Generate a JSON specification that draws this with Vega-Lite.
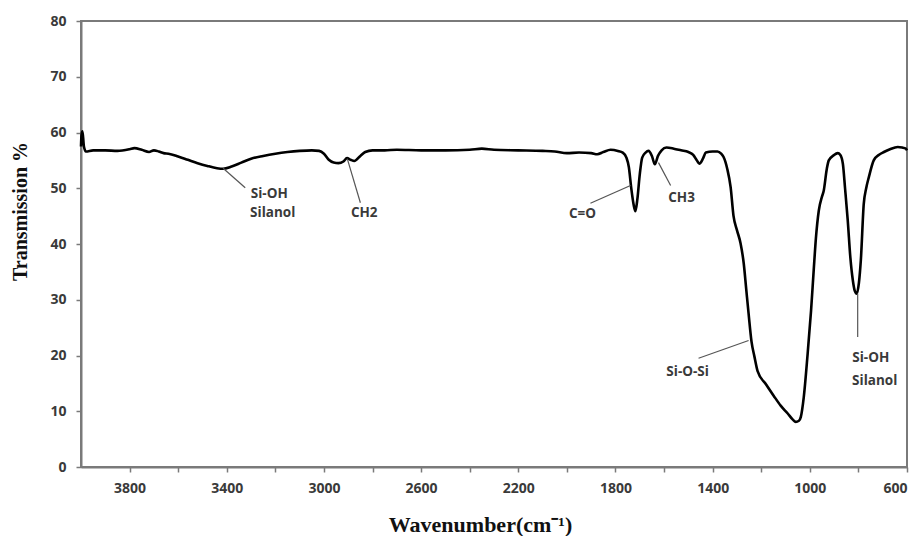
{
  "$schema": "https://vega.github.io/schema/vega-lite/v6.json",
  "width": 826,
  "height": 446,
  "autosize": {"type": "none"},
  "padding": {"left": 81, "top": 21, "right": 10, "bottom": 69},
  "background": "white",
  "config": {
    "view": {"stroke": "#7a7a7a", "strokeWidth": 2},
    "axis": {
      "domainColor": "#7a7a7a",
      "domainWidth": 2,
      "tickColor": "#7a7a7a",
      "tickWidth": 1.5,
      "grid": false,
      "labelFont": "Open Sans",
      "labelFontWeight": "bold",
      "labelFontSize": 14,
      "labelColor": "#3a3a3a",
      "titleFont": "Liberation Serif",
      "titleFontWeight": "bold",
      "titleColor": "#111111"
    }
  },
  "datasets": {
    "spectrum": [
      {"w": 4000, "v": 57.5}, {"w": 3998, "v": 59.5}, {"w": 3994, "v": 60.2}, {"w": 3988, "v": 57.5}, {"w": 3980, "v": 56.6},
      {"w": 3950, "v": 56.8}, {"w": 3900, "v": 56.8}, {"w": 3850, "v": 56.7}, {"w": 3800, "v": 57.0}, {"w": 3780, "v": 57.2},
      {"w": 3750, "v": 56.9}, {"w": 3720, "v": 56.5}, {"w": 3700, "v": 56.8}, {"w": 3680, "v": 56.6}, {"w": 3660, "v": 56.3},
      {"w": 3640, "v": 56.2}, {"w": 3600, "v": 55.7}, {"w": 3560, "v": 55.1}, {"w": 3520, "v": 54.5}, {"w": 3480, "v": 54.0},
      {"w": 3440, "v": 53.6}, {"w": 3415, "v": 53.5}, {"w": 3380, "v": 53.9}, {"w": 3340, "v": 54.6}, {"w": 3300, "v": 55.3},
      {"w": 3250, "v": 55.8}, {"w": 3200, "v": 56.2}, {"w": 3150, "v": 56.5}, {"w": 3100, "v": 56.7}, {"w": 3050, "v": 56.8},
      {"w": 3020, "v": 56.7}, {"w": 3000, "v": 56.2}, {"w": 2980, "v": 55.1}, {"w": 2960, "v": 54.6}, {"w": 2940, "v": 54.5},
      {"w": 2920, "v": 54.8}, {"w": 2905, "v": 55.4}, {"w": 2890, "v": 55.1}, {"w": 2875, "v": 54.9}, {"w": 2850, "v": 55.8},
      {"w": 2830, "v": 56.5}, {"w": 2800, "v": 56.8}, {"w": 2750, "v": 56.8}, {"w": 2700, "v": 56.9}, {"w": 2600, "v": 56.8},
      {"w": 2500, "v": 56.8}, {"w": 2400, "v": 56.9}, {"w": 2350, "v": 57.1}, {"w": 2300, "v": 56.9}, {"w": 2200, "v": 56.8},
      {"w": 2100, "v": 56.7}, {"w": 2050, "v": 56.6}, {"w": 2000, "v": 56.3}, {"w": 1950, "v": 56.4}, {"w": 1900, "v": 56.3},
      {"w": 1875, "v": 56.1}, {"w": 1850, "v": 56.5}, {"w": 1820, "v": 56.9}, {"w": 1790, "v": 56.7}, {"w": 1770, "v": 56.4},
      {"w": 1755, "v": 55.5}, {"w": 1745, "v": 53.8}, {"w": 1735, "v": 50.0}, {"w": 1725, "v": 47.0}, {"w": 1718, "v": 45.9},
      {"w": 1710, "v": 48.0}, {"w": 1700, "v": 52.5}, {"w": 1690, "v": 55.5}, {"w": 1676, "v": 56.4}, {"w": 1664, "v": 56.7},
      {"w": 1650, "v": 55.8}, {"w": 1638, "v": 54.3}, {"w": 1625, "v": 55.8}, {"w": 1610, "v": 56.8}, {"w": 1590, "v": 57.3},
      {"w": 1560, "v": 57.1}, {"w": 1530, "v": 56.8}, {"w": 1500, "v": 56.5}, {"w": 1480, "v": 56.0}, {"w": 1465, "v": 55.0},
      {"w": 1455, "v": 54.4}, {"w": 1440, "v": 55.3}, {"w": 1428, "v": 56.4}, {"w": 1400, "v": 56.6}, {"w": 1380, "v": 56.6},
      {"w": 1365, "v": 56.2}, {"w": 1355, "v": 55.6}, {"w": 1340, "v": 53.5}, {"w": 1326, "v": 50.2}, {"w": 1314, "v": 45.0},
      {"w": 1300, "v": 42.5}, {"w": 1285, "v": 40.1}, {"w": 1272, "v": 36.5}, {"w": 1262, "v": 32.0}, {"w": 1252, "v": 27.5},
      {"w": 1240, "v": 22.5}, {"w": 1228, "v": 19.8}, {"w": 1215, "v": 17.2}, {"w": 1180, "v": 14.8}, {"w": 1149, "v": 12.8},
      {"w": 1120, "v": 11.0}, {"w": 1091, "v": 9.6}, {"w": 1070, "v": 8.5}, {"w": 1058, "v": 8.1}, {"w": 1045, "v": 8.3},
      {"w": 1037, "v": 9.0}, {"w": 1025, "v": 12.5}, {"w": 1009, "v": 20.3}, {"w": 995, "v": 28.0}, {"w": 984, "v": 35.3},
      {"w": 975, "v": 41.0}, {"w": 963, "v": 46.0}, {"w": 950, "v": 48.5}, {"w": 943, "v": 49.5}, {"w": 930, "v": 53.5},
      {"w": 922, "v": 55.0}, {"w": 902, "v": 55.9}, {"w": 885, "v": 56.3}, {"w": 875, "v": 56.0}, {"w": 864, "v": 54.4},
      {"w": 855, "v": 50.0}, {"w": 844, "v": 44.3}, {"w": 833, "v": 37.5}, {"w": 823, "v": 33.5}, {"w": 815, "v": 31.6},
      {"w": 807, "v": 31.1}, {"w": 798, "v": 33.0}, {"w": 790, "v": 37.1}, {"w": 778, "v": 47.2}, {"w": 768, "v": 50.0},
      {"w": 757, "v": 52.0}, {"w": 737, "v": 55.0}, {"w": 715, "v": 56.0}, {"w": 695, "v": 56.5}, {"w": 670, "v": 57.0},
      {"w": 638, "v": 57.4}, {"w": 620, "v": 57.3}, {"w": 605, "v": 57.1}, {"w": 600, "v": 56.8}
    ],
    "leaders": [
      {"w": 3415, "v": 53.6, "w2": 3324, "v2": 50.1},
      {"w": 2904, "v": 55.3, "w2": 2850, "v2": 47.4},
      {"w": 1738, "v": 50.5, "w2": 1903, "v2": 47.3},
      {"w": 1623, "v": 54.6, "w2": 1573, "v2": 50.5},
      {"w": 1252, "v": 22.7, "w2": 1458, "v2": 19.5},
      {"w": 803, "v": 31.1, "w2": 803, "v2": 23.3}
    ],
    "labels": [
      {"w": 3225, "v": 48.9, "text": "Si-OH"},
      {"w": 3211, "v": 45.6, "text": "Silanol"},
      {"w": 2834, "v": 45.6, "text": "CH2"},
      {"w": 1936, "v": 45.3, "text": "C=O"},
      {"w": 1528, "v": 48.2, "text": "CH3"},
      {"w": 1503, "v": 17.0, "text": "Si-O-Si"},
      {"w": 749, "v": 19.5, "text": "Si-OH"},
      {"w": 733, "v": 15.5, "text": "Silanol"}
    ]
  },
  "encoding": {
    "x": {
      "field": "w", "type": "quantitative",
      "scale": {"domain": [600, 4000], "reverse": true, "nice": false, "zero": false},
      "axis": {
        "values": [3800, 3600, 3400, 3200, 3000, 2800, 2600, 2400, 2200, 2000, 1800, 1600, 1400, 1200, 1000, 800, 600],
        "format": "d",
        "labelExpr": "(4200 - datum.value) % 400 == 0 ? datum.label : ''",
        "labelOverlap": false,
        "labelFlush": true,
        "tickSize": 5,
        "labelPadding": 9,
        "title": "Wavenumber(cm⁻¹)",
        "titleFontSize": 22,
        "titleX": 399,
        "titleY": 57,
        "titleBaseline": "middle",
        "titleAlign": "center"
      }
    },
    "y": {
      "field": "v", "type": "quantitative",
      "scale": {"domain": [0, 80], "nice": false},
      "axis": {
        "values": [0, 10, 20, 30, 40, 50, 60, 70, 80],
        "tickSize": 5,
        "labelPadding": 10,
        "title": "Transmission %",
        "titleFontSize": 20,
        "titleX": -61,
        "titleY": 190,
        "titleAngle": -90,
        "titleBaseline": "middle",
        "titleAlign": "center"
      }
    }
  },
  "layer": [
    {
      "data": {"name": "spectrum"},
      "mark": {"type": "line", "color": "#000000", "strokeWidth": 2.6, "interpolate": "monotone"}
    },
    {
      "data": {"name": "leaders"},
      "mark": {"type": "rule", "color": "#555555", "strokeWidth": 1.2},
      "encoding": {
        "x2": {"field": "w2"},
        "y2": {"field": "v2"}
      }
    },
    {
      "data": {"name": "labels"},
      "mark": {"type": "text", "font": "Open Sans", "fontWeight": "bold", "fontSize": 13.5, "color": "#3a3a3a", "align": "center", "baseline": "middle"},
      "encoding": {
        "text": {"field": "text"}
      }
    }
  ]
}
